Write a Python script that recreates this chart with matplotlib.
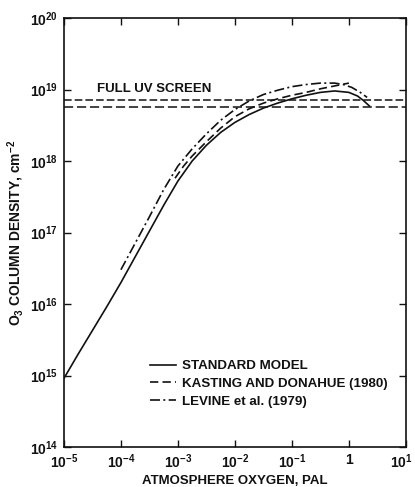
import numpy as np
import matplotlib
matplotlib.use("Agg")
import matplotlib.pyplot as plt
import matplotlib.transforms as mtransforms

plt.rcParams["font.family"] = ["Liberation Sans", "DejaVu Sans"]
plt.rcParams["font.weight"] = "bold"
plt.rcParams["mathtext.fontset"] = "custom"
plt.rcParams["mathtext.rm"] = "Liberation Sans:bold"
plt.rcParams["mathtext.it"] = "Liberation Sans:bold"
plt.rcParams["mathtext.bf"] = "Liberation Sans:bold"
plt.rcParams["mathtext.default"] = "rm"

INK = "#111111"

# O3 column density (cm^-2) versus atmospheric O2 (PAL), log10 values
std_logx = [-5.0, -4.75, -4.5, -4.25, -4.0, -3.75, -3.5, -3.25, -3.0, -2.75,
            -2.5, -2.25, -2.0, -1.75, -1.5, -1.25, -1.0, -0.75, -0.5, -0.25,
            0.0, 0.15, 0.25, 0.36]
std_logy = [14.96, 15.30, 15.63, 15.96, 16.30, 16.66, 17.02, 17.38, 17.72, 18.00,
            18.22, 18.40, 18.54, 18.65, 18.74, 18.81, 18.87, 18.92, 18.96, 18.98,
            18.96, 18.91, 18.85, 18.77]

kd_logx = [-3.05, -2.9, -2.75, -2.5, -2.25, -2.0, -1.75, -1.5, -1.25, -1.0,
           -0.75, -0.5, -0.25, 0.0]
kd_logy = [17.76, 17.93, 18.07, 18.27, 18.46, 18.62, 18.73, 18.81, 18.87, 18.92,
           18.96, 19.01, 19.05, 19.09]

lev_logx = [-4.0, -3.75, -3.5, -3.25, -3.0, -2.75, -2.5, -2.25, -2.0, -1.75,
            -1.5, -1.25, -1.0, -0.75, -0.5, -0.25, -0.1, 0.05, 0.2, 0.32]
lev_logy = [16.48, 16.85, 17.22, 17.60, 17.93, 18.17, 18.38, 18.57, 18.72, 18.84,
            18.93, 18.99, 19.04, 19.07, 19.09, 19.09, 19.07, 19.03, 18.96, 18.89]

# "Full UV screen" band limits (cm^-2)
uv_screen = [7.1e18, 5.7e18]

series_labels = ["STANDARD MODEL", "KASTING AND DONAHUE (1980)", "LEVINE et al. (1979)"]

x_ticks = [1e-5, 1e-4, 1e-3, 1e-2, 1e-1, 1, 10]
x_tick_labels = [r"$10^{-5}$", r"$10^{-4}$", r"$10^{-3}$", r"$10^{-2}$", r"$10^{-1}$", "1", r"$10^{1}$"]
y_ticks = [1e14, 1e15, 1e16, 1e17, 1e18, 1e19, 1e20]
y_tick_labels = [r"$10^{14}$", r"$10^{15}$", r"$10^{16}$", r"$10^{17}$", r"$10^{18}$", r"$10^{19}$", r"$10^{20}$"]

fig = plt.figure(figsize=(4.15, 4.87), dpi=100)
ax = fig.add_axes([0.154, 0.082, 0.824, 0.881])

ax.set_xscale("log")
ax.set_yscale("log")
ax.set_xlim(1e-5, 10)
ax.set_ylim(1e14, 1e20)

lw = 1.2
ax.plot(10 ** np.array(std_logx), 10 ** np.array(std_logy), color=INK, lw=lw,
        linestyle="-", label=series_labels[0])
ax.plot(10 ** np.array(kd_logx), 10 ** np.array(kd_logy), color=INK, lw=lw,
        linestyle=(0, (5, 2.5)), label=series_labels[1])
ax.plot(10 ** np.array(lev_logx), 10 ** np.array(lev_logy), color=INK, lw=lw,
        linestyle=(0, (6, 2, 1.2, 2)), label=series_labels[2])

ax.axhline(uv_screen[0], color=INK, lw=1.1, linestyle=(0, (5, 2)))
ax.axhline(uv_screen[1], color=INK, lw=1.1, linestyle=(0, (6, 2.5)))
ax.text(3.8e-5, 8.3e18, "FULL UV SCREEN", fontsize=9.5, fontweight="bold",
        color=INK, ha="left", va="bottom")

ax.set_xticks(x_ticks)
ax.set_xticklabels(x_tick_labels)
ax.set_yticks(y_ticks)
ax.set_yticklabels(y_tick_labels)
ax.minorticks_off()
ax.tick_params(which="major", direction="in", length=5, width=1.0,
               top=True, right=True, labelsize=10, colors=INK, pad=4)

# keep the last x tick label inside the figure edge
last = ax.get_xticklabels()[-1]
last.set_horizontalalignment("right")
last.set_transform(last.get_transform() +
                   mtransforms.ScaledTranslation(7 / 100, 0, fig.dpi_scale_trans))

for s in ax.spines.values():
    s.set_linewidth(1.2)
    s.set_color(INK)

ax.set_xlabel("ATMOSPHERE OXYGEN, PAL", fontsize=9.5, fontweight="bold", color=INK, labelpad=3)
ax.set_ylabel(r"O$_3$ COLUMN DENSITY, cm$^{-2}$", fontsize=10, fontweight="bold",
              color=INK, labelpad=3)

leg = ax.legend(loc="upper left", bbox_to_anchor=(0.251, 0.203), frameon=False,
                fontsize=9.6, handlelength=2.0, handletextpad=0.45,
                labelspacing=0.4, borderpad=0, borderaxespad=0)
for t in leg.get_texts():
    t.set_color(INK)

fig.savefig("out.png", dpi=100)
